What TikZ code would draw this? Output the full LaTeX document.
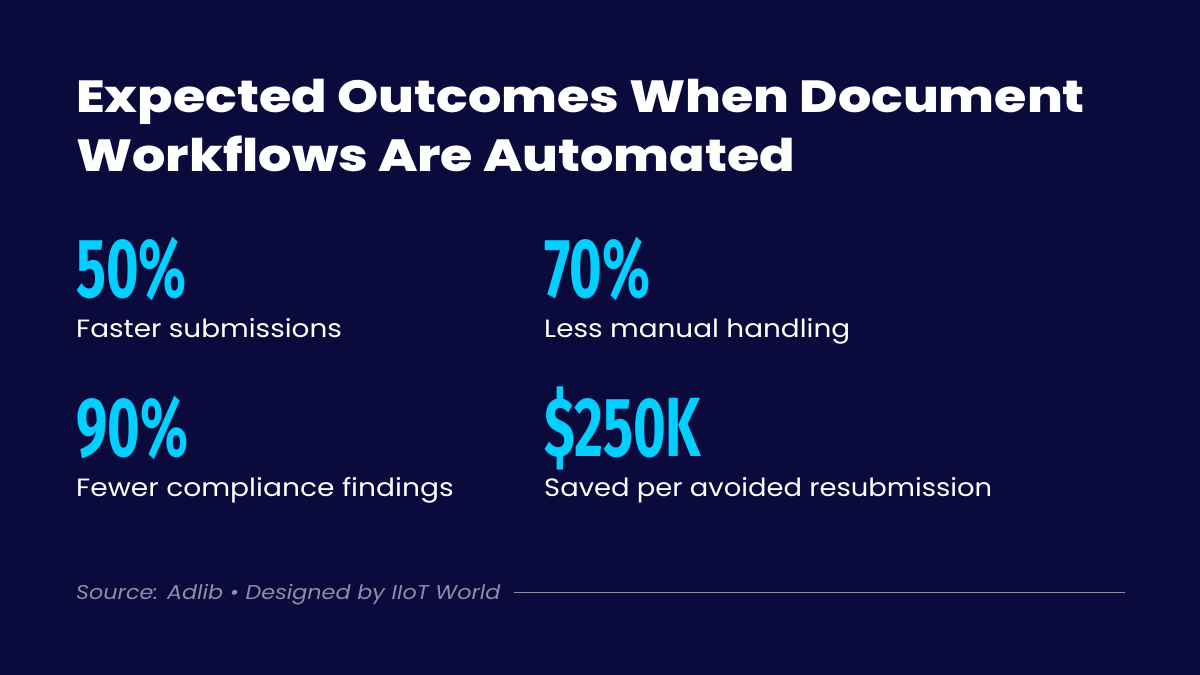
\documentclass[tikz,border=0pt]{standalone}
\usepackage{fontspec}
\usepackage{tikz}
\setmainfont{Poppins}
\newfontfamily\statfont{Fira Sans}
\newfontfamily\headfont{Poppins ExtraBold}
\definecolor{pagebg}{HTML}{0A0A3C}
\definecolor{statcyan}{HTML}{00CFFF}
\definecolor{sourcegrey}{HTML}{8E8EA6}
\tikzset{
	headline/.style={anchor=base west,inner sep=0pt,text=white,xscale=1.163,font=\headfont\fontsize{45pt}{45pt}\selectfont},
	statnum/.style={anchor=base west,inner sep=0pt,text=statcyan,xscale=0.665,font=\statfont\fontsize{84pt}{84pt}\selectfont\bfseries},
	statlabel/.style={anchor=base west,inner sep=0pt,text=white,xscale=1.115,font=\fontsize{25pt}{25pt}\selectfont},
}
\begin{document}
\begin{tikzpicture}[x=1pt,y=-1pt]
	\fill[pagebg] (0,0) rectangle (1200,675);
	\useasboundingbox (0,0) rectangle (1200,675);
	\node[headline] (titleone) at (76,112) {Expected Outcomes When Document};
	\node[headline] (titletwo) at (76,171) {Workflows Are Automated};
	\node[statnum] (numa) at (76,297) {50\%};
	\node[statlabel] (laba) at (76,337) {Faster submissions};
	\node[statnum] (numb) at (544,297) {70\%};
	\node[statlabel] (labb) at (544,337) {Less manual handling};
	\node[statnum] (numc) at (76,456) {90\%};
	\node[statlabel,xscale=1.008] (labc) at (76,496) {Fewer compliance findings};
	\node[statnum] (numd) at (544,456) {\$250K};
	\node[statlabel,xscale=0.982] (labd) at (544,496) {Saved per avoided resubmission};
	\node[anchor=base west,inner sep=0pt,text=sourcegrey,xscale=1.115,font=\fontsize{20pt}{20pt}\selectfont\itshape] (source) at (76,599) {Source: Adlib • Designed by IIoT World};
	\coordinate (rulestart) at (514,592);
	\coordinate (ruleend) at (1125,592);
	\draw[sourcegrey,line width=1pt] (rulestart) -- (ruleend);
\end{tikzpicture}
\end{document}
